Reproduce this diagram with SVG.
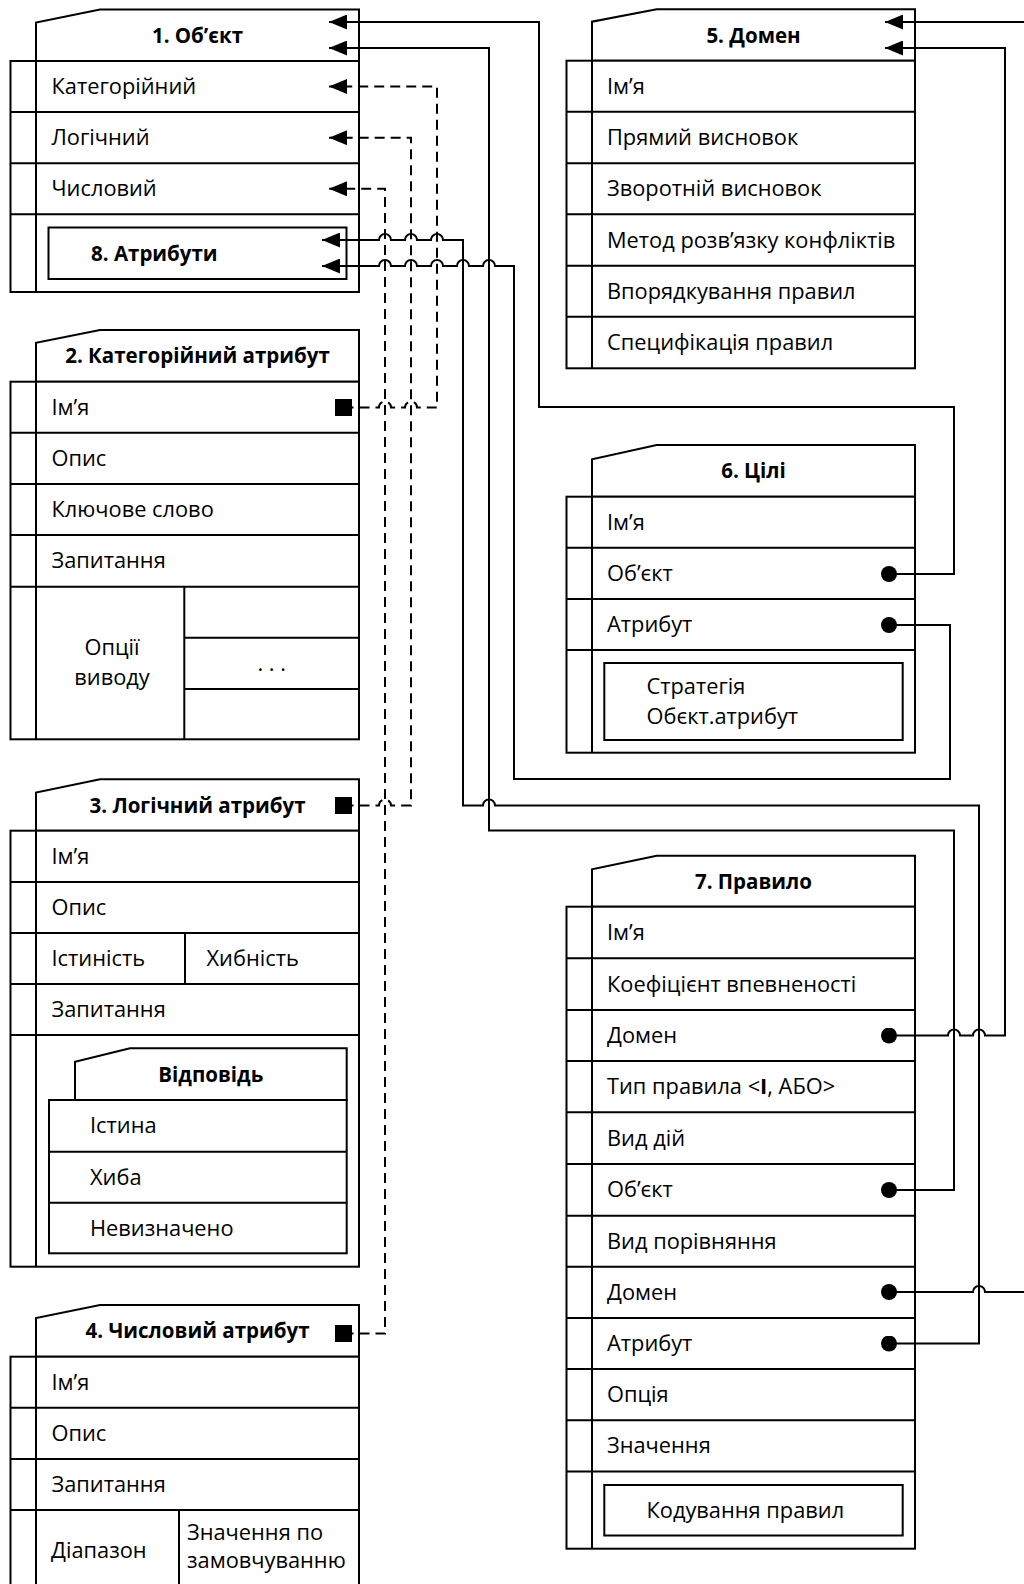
<svg xmlns="http://www.w3.org/2000/svg" width="1024" height="1584" viewBox="0 0 1024 1584">
<style>
.ln{fill:none;stroke:#000;stroke-width:2}
.bx{fill:#fff;stroke:#000;stroke-width:2}
.t{font-family:"Open Sans","Liberation Sans",Arial,sans-serif;font-size:21.8px;fill:#000}
.b{font-weight:bold;font-size:20.5px}
.c{text-anchor:middle}
.cn{fill:none;stroke:#000;stroke-width:2}
.d{stroke-dasharray:10 6}
.arr{marker-end:url(#arr)}
</style>
<defs>
<marker id="arr" viewBox="0 0 18 15" refX="18" refY="7.5" markerWidth="18" markerHeight="15" markerUnits="userSpaceOnUse" orient="auto"><path d="M0,0 L18,7.5 L0,15 z" fill="#000"/></marker>
<marker id="dot" viewBox="0 0 16 16" refX="8" refY="8" markerWidth="16" markerHeight="16" markerUnits="userSpaceOnUse"><circle cx="8" cy="8" r="8" fill="#000"/></marker>
<marker id="sq" viewBox="0 0 17 17" refX="8.5" refY="8.5" markerWidth="17" markerHeight="17" markerUnits="userSpaceOnUse"><rect width="17" height="17" fill="#000"/></marker>
</defs>
<rect width="1024" height="1584" fill="#fff"/>

<g id="n1">
<path class="bx" d="M36,61 V22.5 L100,9.5 H359 V61 Z"/>
<rect class="bx" x="10.5" y="61" width="348.5" height="231"/>
<path class="ln" d="M36,61 V292 M10.5,112 H359 M10.5,163.3 H359 M10.5,214.3 H359"/>
<text class="t b c" x="197.5" y="42.5">1. Об’єкт</text>
<text class="t" x="51.5" y="94">Категорійний</text>
<text class="t" x="51.5" y="145.3">Логічний</text>
<text class="t" x="51.5" y="196.4">Числовий</text>
</g>
<g id="n8">
<rect class="bx" x="48.5" y="227.5" width="298" height="51.5"/>
<text class="t b" x="91" y="260.7">8. Атрибути</text>
</g>

<g id="n2">
<path class="bx" d="M36,381.7 V342.7 L100,330 H359 V381.7 Z"/>
<rect class="bx" x="10.5" y="381.7" width="348.5" height="357.6"/>
<path class="ln" d="M36,381.7 V739.3 M10.5,432.7 H359 M10.5,484 H359 M10.5,535 H359 M10.5,586.7 H359 M184.3,586.7 V739.3 M184.3,637.7 H359 M184.3,689 H359"/>
<text class="t b c" x="197.5" y="363.3">2. Категорійний атрибут</text>
<text class="t" x="51.5" y="414.7">Ім’я</text>
<text class="t" x="51.5" y="465.9">Опис</text>
<text class="t" x="51.5" y="517">Ключове слово</text>
<text class="t" x="51.5" y="568.4">Запитання</text>
<text class="t c" x="112" y="655">Опції</text>
<text class="t c" x="112" y="685">виводу</text>
<text class="t c" x="271.7" y="671">. . .</text>
</g>

<g id="n3">
<path class="bx" d="M36,830.7 V792.5 L100,779.3 H359 V830.7 Z"/>
<rect class="bx" x="10.5" y="830.7" width="348.5" height="436"/>
<path class="ln" d="M36,830.7 V1266.7 M10.5,882 H359 M10.5,933 H359 M10.5,984 H359 M10.5,1035 H359 M185,933 V984"/>
<text class="t b c" x="197.5" y="812.6">3. Логічний атрибут</text>
<text class="t" x="51.5" y="863.8">Ім’я</text>
<text class="t" x="51.5" y="915">Опис</text>
<text class="t" x="51.5" y="966">Істиність</text>
<text class="t" x="206.5" y="966">Хибність</text>
<text class="t" x="51.5" y="1017">Запитання</text>
<g id="n3a">
<path class="bx" d="M75,1100 V1061.7 L130,1048.3 H346.7 V1100 Z"/>
<rect class="bx" x="49" y="1100" width="297.7" height="153.3"/>
<path class="ln" d="M49,1151.7 H346.7 M49,1202.7 H346.7"/>
<text class="t b c" x="210.8" y="1081.7">Відповідь</text>
<text class="t" x="90" y="1133.3">Істина</text>
<text class="t" x="90" y="1184.7">Хиба</text>
<text class="t" x="90" y="1235.5">Невизначено</text>
</g>
</g>

<g id="n4">
<path class="bx" d="M36,1356.7 V1318 L100,1305 H359 V1356.7 Z"/>
<rect class="bx" x="10.5" y="1356.7" width="348.5" height="260"/>
<path class="ln" d="M36,1356.7 V1600 M10.5,1407.7 H359 M10.5,1459 H359 M10.5,1510 H359 M179,1510 V1600"/>
<text class="t b c" x="197.5" y="1338.4">4. Числовий атрибут</text>
<text class="t" x="51.5" y="1389.8">Ім’я</text>
<text class="t" x="51.5" y="1440.8">Опис</text>
<text class="t" x="51.5" y="1492">Запитання</text>
<text class="t" x="51" y="1558">Діапазон</text>
<text class="t" x="187" y="1540">Значення по</text>
<text class="t" x="187" y="1568">замовчуванню</text>
</g>

<g id="n5">
<path class="bx" d="M592,60.7 V21.7 L656.7,9.3 H915 V60.7 Z"/>
<rect class="bx" x="566.5" y="60.7" width="348.5" height="307.6"/>
<path class="ln" d="M592,60.7 V368.3 M566.5,111.7 H915 M566.5,163.3 H915 M566.5,214.3 H915 M566.5,265.7 H915 M566.5,316.7 H915"/>
<text class="t b c" x="753.5" y="42.5">5. Домен</text>
<text class="t" x="607" y="93.7">Ім’я</text>
<text class="t" x="607" y="145">Прямий висновок</text>
<text class="t" x="607" y="196.3">Зворотній висновок</text>
<text class="t" x="607" y="247.5">Метод розв’язку конфліктів</text>
<text class="t" x="607" y="298.7">Впорядкування правил</text>
<text class="t" x="607" y="350">Специфікація правил</text>
</g>

<g id="n6">
<path class="bx" d="M592,496.7 V459.3 L656.7,445 H915 V496.7 Z"/>
<rect class="bx" x="566.5" y="496.7" width="348.5" height="256"/>
<path class="ln" d="M592,496.7 V752.7 M566.5,547.7 H915 M566.5,599 H915 M566.5,650 H915"/>
<rect class="bx" x="604.3" y="663" width="298.4" height="77"/>
<text class="t b c" x="753.5" y="478.4">6. Цілі</text>
<text class="t" x="607" y="529.7">Ім’я</text>
<text class="t" x="607" y="580.9">Об’єкт</text>
<text class="t" x="607" y="632">Атрибут</text>
<text class="t" x="646.5" y="694">Стратегія</text>
<text class="t" x="646.5" y="724">Обєкт.атрибут</text>
</g>

<g id="n7">
<path class="bx" d="M592,906.7 V869.3 L656.7,855.7 H915 V906.7 Z"/>
<rect class="bx" x="566.5" y="906.7" width="348.5" height="642"/>
<path class="ln" d="M592,906.7 V1548.7 M566.5,958.3 H915 M566.5,1010 H915 M566.5,1061 H915 M566.5,1112.3 H915 M566.5,1164 H915 M566.5,1215.7 H915 M566.5,1266.7 H915 M566.5,1318 H915 M566.5,1369 H915 M566.5,1420.3 H915 M566.5,1471.5 H915"/>
<rect class="bx" x="604.3" y="1485" width="298.4" height="50.5"/>
<text class="t b c" x="753.5" y="888.7">7. Правило</text>
<text class="t" x="607" y="940">Ім’я</text>
<text class="t" x="607" y="991.7">Коефіцієнт впевненості</text>
<text class="t" x="607" y="1043">Домен</text>
<text class="t" x="607" y="1094.2">Тип правила &lt;<tspan style="font-weight:bold">І</tspan>, АБО&gt;</text>
<text class="t" x="607" y="1145.7">Вид дій</text>
<text class="t" x="607" y="1197.4">Об’єкт</text>
<text class="t" x="607" y="1248.7">Вид порівняння</text>
<text class="t" x="607" y="1299.9">Домен</text>
<text class="t" x="607" y="1351">Атрибут</text>
<text class="t" x="607" y="1402">Опція</text>
<text class="t" x="607" y="1453.4">Значення</text>
<text class="t" x="646.5" y="1517.7">Кодування правил</text>
</g>

<g id="connectors">
<path class="cn arr" style="marker-start:url(#dot)" d="M889,574 H954 V407 H539 V22 H329"/>
<path class="cn arr" style="marker-start:url(#dot)" d="M889,1190 H954 V830.5 H489 V48 H329"/>
<path class="cn arr" style="marker-start:url(#dot)" d="M889,1343.5 H979 V805.5 H495 A6,6 0 0 0 483,805.5 H463 V240 H443 A6,6 0 0 0 431,240 H417 A6,6 0 0 0 405,240 H391 A6,6 0 0 0 379,240 H322"/>
<path class="cn arr" style="marker-start:url(#dot)" d="M889,625 H950 V779 H514 V266 H495 A6,6 0 0 0 483,266 H469 A6,6 0 0 0 457,266 H443 A6,6 0 0 0 431,266 H417 A6,6 0 0 0 405,266 H391 A6,6 0 0 0 379,266 H322"/>
<path class="cn arr" style="marker-start:url(#dot)" d="M889,1035.5 H948 A6,6 0 0 1 960,1035.5 H973 A6,6 0 0 1 985,1035.5 H1005 V48 H885"/>
<path class="cn arr" style="marker-start:url(#dot)" d="M889,1292 H973 A6,6 0 0 1 985,1292 H1030 V22 H885"/>
<path class="cn d arr" style="marker-start:url(#sq)" d="M343.5,407.5 H379 A6,6 0 0 1 391,407.5 H405 A6,6 0 0 1 417,407.5 H437 V86.5 H329"/>
<path class="cn d arr" style="marker-start:url(#sq)" d="M343.5,805.5 H379 A6,6 0 0 1 391,805.5 H411 V137.7 H329"/>
<path class="cn d arr" style="marker-start:url(#sq)" d="M343.5,1333.5 H385 V188.8 H329"/>
</g>
</svg>
